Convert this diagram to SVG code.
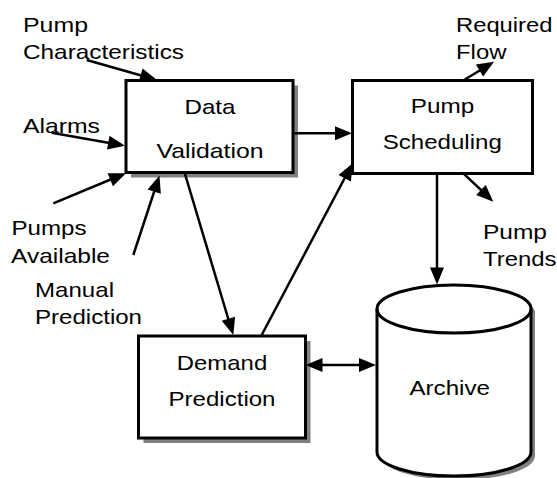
<svg xmlns="http://www.w3.org/2000/svg" width="557" height="478" viewBox="0 0 557 478">
<style>
text{font-family:"Liberation Sans",Arial,sans-serif;font-size:21px;fill:#000}
.c{text-anchor:middle}
.box{fill:#fff;stroke:#000;stroke-width:3}
.sh{fill:#808080;stroke:none}
.ln{stroke:#000;stroke-width:2.5;fill:none}
.ah{fill:#000;stroke:none}
</style>
<defs>
<path id="head" d="M0,0 L-17,-7 L-17,7 Z"/>
</defs>
<rect width="557" height="478" fill="#fff"/>
<g id="node-data-validation">
<rect class="sh" x="131" y="85.5" width="167" height="92"/>
<rect class="box" x="126" y="80.5" width="167" height="92"/>
<text class="c" x="210" y="114.3" textLength="51" lengthAdjust="spacingAndGlyphs">Data</text>
<text class="c" x="210" y="158.3" textLength="107" lengthAdjust="spacingAndGlyphs">Validation</text>
</g>
<g id="node-pump-scheduling">
<rect class="box" x="352.5" y="80.5" width="180" height="93"/>
<text class="c" x="442.5" y="113.3" textLength="63.5" lengthAdjust="spacingAndGlyphs">Pump</text>
<text class="c" x="442.3" y="148.8" textLength="119" lengthAdjust="spacingAndGlyphs">Scheduling</text>
</g>
<g id="node-demand-prediction">
<rect class="sh" x="143.5" y="341" width="167" height="102"/>
<rect class="box" x="138.5" y="336" width="167" height="102"/>
<text class="c" x="222" y="370" textLength="90.5" lengthAdjust="spacingAndGlyphs">Demand</text>
<text class="c" x="222" y="406" textLength="107" lengthAdjust="spacingAndGlyphs">Prediction</text>
</g>
<g id="node-archive">
<path class="sh" d="M381,313 A77,24 0 0,1 535,313 L535,456 A77,24 0 0,1 381,456 Z"/>
<path class="box" d="M377,309 A77,24 0 0,1 531,309 L531,452 A77,24 0 0,1 377,452 Z"/>
<path d="M377,309 A77,24 0 0,0 531,309" fill="none" stroke="#000" stroke-width="3"/>
<text class="c" x="449.7" y="395" textLength="80.5" lengthAdjust="spacingAndGlyphs">Archive</text>
</g>
<g id="labels">
<text x="23" y="32.3" textLength="65" lengthAdjust="spacingAndGlyphs">Pump</text>
<text x="23" y="59" textLength="161" lengthAdjust="spacingAndGlyphs">Characteristics</text>
<text x="23" y="133" textLength="77" lengthAdjust="spacingAndGlyphs">Alarms</text>
<text x="11.5" y="235" textLength="75" lengthAdjust="spacingAndGlyphs">Pumps</text>
<text x="11" y="262.7" textLength="99" lengthAdjust="spacingAndGlyphs">Available</text>
<text x="35" y="297.3" textLength="79" lengthAdjust="spacingAndGlyphs">Manual</text>
<text x="35" y="324" textLength="107" lengthAdjust="spacingAndGlyphs">Prediction</text>
<text x="456" y="32.3" textLength="96.5" lengthAdjust="spacingAndGlyphs">Required</text>
<text x="456" y="59" textLength="50.5" lengthAdjust="spacingAndGlyphs">Flow</text>
<text x="483" y="239.3" textLength="64" lengthAdjust="spacingAndGlyphs">Pump</text>
<text x="483" y="265.7" textLength="73.5" lengthAdjust="spacingAndGlyphs">Trends</text>
</g>
<g id="connectors">
<line class="ln" x1="86.7" y1="60" x2="150" y2="78"/>
<use href="#head" class="ah" transform="translate(157,80) rotate(15.9)"/>
<line class="ln" x1="51.7" y1="132.7" x2="118" y2="144.5"/>
<use href="#head" class="ah" transform="translate(125,145.7) rotate(10.1)"/>
<line class="ln" x1="53.3" y1="203.3" x2="119" y2="176"/>
<use href="#head" class="ah" transform="translate(126,173.3) rotate(-22.4)"/>
<line class="ln" x1="133.3" y1="255" x2="157" y2="183"/>
<use href="#head" class="ah" transform="translate(159.5,175.5) rotate(-71.8)"/>
<line class="ln" x1="185" y1="174" x2="231" y2="328"/>
<use href="#head" class="ah" transform="translate(233.3,335) rotate(73.3)"/>
<line class="ln" x1="261.7" y1="335" x2="349" y2="170"/>
<use href="#head" class="ah" transform="translate(352.7,163.3) rotate(-62.1)"/>
<line class="ln" x1="294.5" y1="133.3" x2="345" y2="133.3"/>
<use href="#head" class="ah" transform="translate(352,133.3)"/>
<line class="ln" x1="464" y1="80" x2="488" y2="65.5"/>
<use href="#head" class="ah" transform="translate(494,61.7) rotate(-31.4)"/>
<line class="ln" x1="463.3" y1="173.3" x2="488" y2="196.5"/>
<use href="#head" class="ah" transform="translate(493.3,201.7) rotate(43.4)"/>
<line class="ln" x1="437" y1="173.3" x2="437" y2="277"/>
<use href="#head" class="ah" transform="translate(437,284.5) rotate(90)"/>
<line class="ln" x1="312" y1="365" x2="369" y2="365"/>
<use href="#head" class="ah" transform="translate(376,365)"/>
<use href="#head" class="ah" transform="translate(305.5,365) rotate(180)"/>
</g>
</svg>
